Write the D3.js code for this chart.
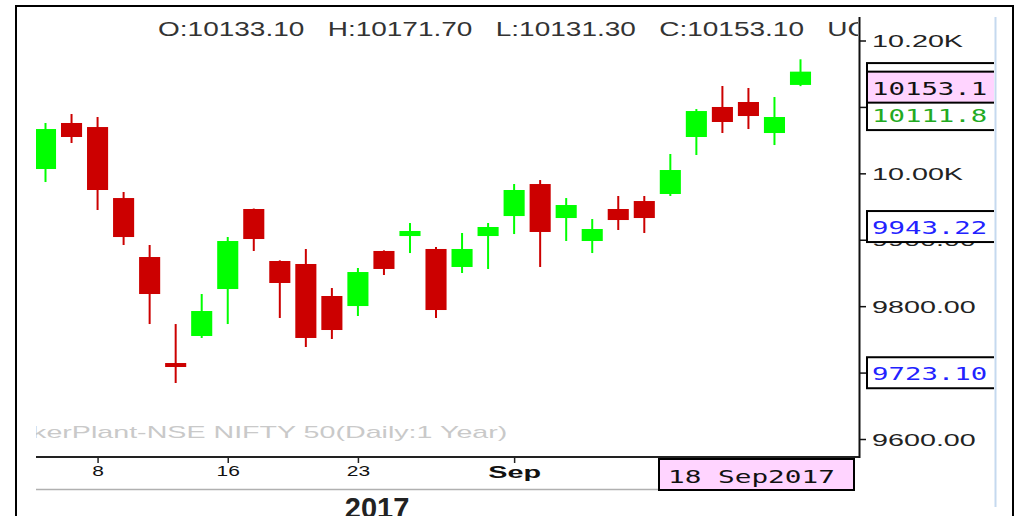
<!DOCTYPE html>
<html lang="en">
<head>
<meta charset="UTF-8">
<title>NSE NIFTY 50 (Daily)</title>
<script src="https://d3js.org/d3.v7.min.js"></script>
<style>
  body { margin: 0; background: #fff; }
  svg { display: block; }
  text { font-family: "Liberation Sans", Arial, sans-serif; }
  .mono { font-family: "DejaVu Sans Mono", monospace; }
</style>
</head>
<body>
<svg id="chart" width="1019" height="516"></svg>
<script>
// daily candles, Aug-Sep 2017
const dates  = ["2017-08-04","2017-08-07","2017-08-08","2017-08-09","2017-08-10","2017-08-11","2017-08-14","2017-08-16",
                "2017-08-17","2017-08-18","2017-08-21","2017-08-22","2017-08-23","2017-08-24","2017-08-28","2017-08-29",
                "2017-08-30","2017-08-31","2017-09-01","2017-09-04","2017-09-05","2017-09-06","2017-09-07","2017-09-08",
                "2017-09-11","2017-09-12","2017-09-13","2017-09-14","2017-09-15","2017-09-18"];
const opens  = [10006.5,10075.8,10069.7,9962.8,9874.0,9714.4,9755.1,9825.8,9946.3,9868.0,9863.5,9815.3,9800.2,9883.1,9905.6,
                9886.1,9859.0,9905.6,9935.7,9983.9,9932.7,9898.1,9946.3,9958.3,9968.9,10054.7,10099.9,10107.4,10060.7,10133.1];
const highs  = [10075.8,10089.3,10084.8,9971.9,9892.1,9773.1,9818.3,9904.1,9947.0,9869.0,9886.1,9827.3,9857.5,9884.0,9925.2,
                9889.1,9910.2,9925.2,9983.9,9989.9,9962.8,9931.2,9965.9,9965.9,10029.1,10096.8,10131.5,10128.5,10114.9,10171.7];
const lows   = [9986.9,10045.7,9944.8,9892.1,9773.1,9684.3,9752.1,9773.1,9883.1,9782.2,9738.5,9750.6,9785.2,9846.9,9880.0,
                9782.2,9849.9,9856.0,9908.6,9859.0,9898.1,9880.0,9914.7,9910.2,9965.9,10027.6,10060.7,10066.7,10042.6,10131.3];
const closes = [10066.7,10054.7,9974.9,9904.1,9818.3,9708.4,9792.7,9898.1,9901.1,9834.9,9752.1,9764.1,9851.4,9856.0,9913.2,
                9794.2,9886.1,9919.2,9974.9,9911.7,9952.3,9916.2,9929.7,9932.7,10005.0,10093.8,10077.3,10086.3,10084.8,10153.1];

// axes
const yTicks = [9600, 9700, 9800, 9900, 10000, 10100, 10200];
const dateTicks = ["2017-08-08", "2017-08-16", "2017-08-23", "2017-09-01", "2017-09-11"];
const dateTickLabels = ["8", "16", "23", "Sep", "11"];
const yearLabel = "2017";

// price tags on the right axis
const tagValues = [10166.0, 10111.8, 10153.1, 9943.22, 9723.10];
const tagLabels = ["10166.0", "10111.8", "10153.1", "9943.22", "9723.10"];

const title = "TickerPlant-NSE NIFTY 50(Daily:1 Year)";

// colours
const upColor = "#00ff00", downColor = "#cc0000", pink = "#ffd4ff";
const tagText = ["#111", "#22aa22", "#111", "#2222ff", "#2222ff"];
const tagFill = ["#fff", "#fff", pink, "#fff", "#fff"];

const svg = d3.select("#chart");
const x = d3.scalePoint().domain(dates).range([45.5, 800.5]);
const y = d3.scaleLinear().domain([9600, 10200]).range([439, 40.5]);
const parse = d3.timeParse("%Y-%m-%d");

// outer frame + light blue strip
svg.append("rect").attr("x", 16).attr("y", 6).attr("width", 997).attr("height", 600)
  .attr("fill", "none").attr("stroke", "#000").attr("stroke-width", 2);
svg.append("line").attr("x1", 995.5).attr("x2", 995.5).attr("y1", 17).attr("y2", 507)
  .attr("stroke", "#c5d9ef").attr("stroke-width", 2);

const defs = svg.append("defs");
defs.append("clipPath").attr("id", "plot-clip").append("rect")
  .attr("x", 36).attr("y", 7).attr("width", 822).attr("height", 449);
defs.append("clipPath").attr("id", "tag-clip").append("rect")
  .attr("x", 860).attr("y", 0).attr("width", 134).attr("height", 516);

const plot = svg.append("g").attr("clip-path", "url(#plot-clip)");

// OHLC header of last bar
const n = dates.length - 1;
const f2 = d3.format(".2f");
plot.append("text")
  .attr("transform", "translate(158,36) scale(1.4,1)")
  .style("white-space", "pre")
  .attr("font-size", 20).attr("fill", "#333")
  .text(`O:${f2(opens[n])}   H:${f2(highs[n])}   L:${f2(lows[n])}   C:${f2(closes[n])}   UC`);

// watermark
plot.append("text")
  .attr("transform", "translate(-5,438) scale(1.79,1)")
  .attr("font-size", 16).attr("fill", "#c9c9c9")
  .text(title);

// candles
const candles = dates.map((d, i) => ({ date: d, open: opens[i], high: highs[i], low: lows[i], close: closes[i] }));
const bodyW = x.step() * 0.81;
const col = d => d.close >= d.open ? upColor : downColor;

plot.selectAll("line.wick").data(candles).join("line")
  .attr("class", "wick")
  .attr("x1", d => x(d.date)).attr("x2", d => x(d.date))
  .attr("y1", d => y(d.high)).attr("y2", d => y(d.low))
  .attr("stroke", col).attr("stroke-width", 2);

plot.selectAll("rect.body").data(candles).join("rect")
  .attr("class", "body")
  .attr("x", d => x(d.date) - bodyW / 2)
  .attr("width", bodyW)
  .attr("y", d => y(Math.max(d.open, d.close)))
  .attr("height", d => Math.max(3, Math.abs(y(d.open) - y(d.close))))
  .attr("fill", col);

// x axis
const xAxis = d3.axisBottom(x).tickValues(dateTicks)
  .tickFormat((d, i) => dateTickLabels[i]).tickSize(6).tickSizeOuter(0);
const gx = svg.append("g").attr("transform", "translate(0,457)").call(xAxis);
gx.select(".domain").remove();
gx.selectAll(".tick line").attr("stroke", "#222").attr("stroke-width", 1.5);
gx.selectAll(".tick text")
  .attr("y", 0).attr("dy", null)
  .attr("fill", "#111")
  .attr("font-family", null)
  .attr("font-size", d => d === "2017-09-01" ? 16 : 15)
  .attr("font-weight", d => d === "2017-09-01" ? "bold" : null)
  .attr("transform", d => d === "2017-09-01" ? "translate(0,21) scale(1.8,1)" : "translate(0,18.5) scale(1.4,1)");
svg.append("line").attr("x1", 36).attr("x2", 860).attr("y1", 457).attr("y2", 457)
  .attr("stroke", "#222").attr("stroke-width", 2);
svg.append("line").attr("x1", 36).attr("x2", 660).attr("y1", 489.5).attr("y2", 489.5)
  .attr("stroke", "#b0b0b0").attr("stroke-width", 1.5);
svg.append("text")
  .attr("transform", "translate(377,518) scale(1.45,1.45)")
  .attr("text-anchor", "middle").attr("font-size", 20).attr("font-weight", "bold").attr("fill", "#222")
  .text(yearLabel);

// last date tag
svg.append("rect").attr("x", 659).attr("y", 459).attr("width", 195).attr("height", 31)
  .attr("fill", pink).attr("stroke", "#000").attr("stroke-width", 2);
svg.append("text").attr("class", "mono")
  .attr("transform", "translate(668,483) scale(1.54,1)")
  .attr("font-size", 18).attr("fill", "#111")
  .text(d3.timeFormat("%d %b%Y")(parse(dates[n])));

// y axis
const fmtY = v => v >= 10000 ? (v / 1000).toFixed(2) + "K" : v.toFixed(2);
const yAxis = d3.axisRight(y).tickValues(yTicks).tickFormat(fmtY).tickSize(7).tickSizeOuter(0);
const gy = svg.append("g").attr("transform", "translate(859,0)").call(yAxis);
gy.select(".domain").remove();
gy.selectAll(".tick line").attr("stroke", "#111").attr("stroke-width", 1.5);
gy.selectAll(".tick text")
  .attr("x", 0).attr("dy", null).attr("y", 0)
  .attr("font-family", null).attr("font-size", 17).attr("fill", "#222")
  .attr("transform", "translate(13,6) scale(1.69,1)");
svg.append("line").attr("x1", 859.5).attr("x2", 859.5).attr("y1", 17).attr("y2", 458)
  .attr("stroke", "#111").attr("stroke-width", 2);

// price tags
const tags = svg.append("g").attr("clip-path", "url(#tag-clip)");
tagValues.forEach((v, i) => {
  const top = y(v);
  tags.append("rect").attr("x", 867).attr("y", top).attr("width", 150).attr("height", 31)
    .attr("fill", tagFill[i]).attr("stroke", "#000").attr("stroke-width", 2);
  tags.append("text").attr("class", "mono")
    .attr("transform", `translate(872,${top + 23}) scale(1.52,1)`)
    .attr("font-size", 18).attr("fill", tagText[i])
    .text(tagLabels[i]);
});
</script>
</body>
</html>
